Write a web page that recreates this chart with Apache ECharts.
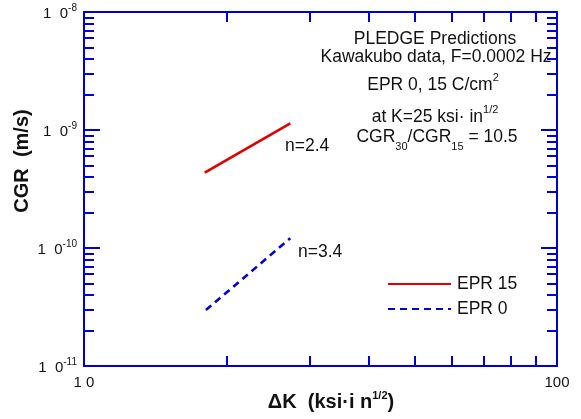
<!DOCTYPE html>
<html>
<head>
<meta charset="utf-8">
<script src="https://cdn.jsdelivr.net/npm/echarts@6/dist/echarts.min.js"></script>
<style>html,body{margin:0;padding:0;background:#fff;}#c{width:581px;height:419px;}</style>
</head>
<body>
<div id="c"></div>
<script>
// ---- data ----
const kEPR15 = [18.0, 27.3];
const cgrEPR15 = [4.35e-10, 1.14e-9];
const kEPR0 = [18.1, 27.3];
const cgrEPR0 = [2.98e-11, 1.21e-10];
const xMajor = [10, 100];
const xMinor = [20, 30, 40, 50, 60, 70, 80, 90];
const yMajor = [1e-11, 1e-10, 1e-9, 1e-8];
const yMinorFactors = [2, 3, 4, 5, 6, 7, 8, 9];
const seriesNames = ['EPR 15', 'EPR 0'];

const yMinor = [];
[1e-11, 1e-10, 1e-9].forEach(d => yMinorFactors.forEach(f => yMinor.push(f * d)));
const yMajorInner = [1e-10, 1e-9];

const FONT = 'Liberation Sans';
const BLUE = '#0000d4';
const chart = echarts.init(document.getElementById('c'), null, {renderer: 'canvas'});

function baseX(pos, line) {
  return {type: 'log', logBase: 10, min: 10, max: 100, position: pos,
    axisLine: {show: line !== false, onZero: false, lineStyle: {color: BLUE, width: 2}},
    splitLine: {show: false}, minorTick: {show: false}, minorSplitLine: {show: false}};
}
function baseY(pos, line) {
  return {type: 'log', logBase: 10, min: 1e-11, max: 1e-8, position: pos,
    axisLine: {show: line !== false, onZero: false, lineStyle: {color: BLUE, width: 2}},
    splitLine: {show: false}, minorTick: {show: false}, minorSplitLine: {show: false}};
}
const tickStyle = {color: BLUE, width: 2};

const xAxes = [
  Object.assign(baseX('bottom'), {
    axisTick: {show: true, inside: true, length: 10, lineStyle: tickStyle, customValues: xMinor},
    axisLabel: {show: false}
  }),
  Object.assign(baseX('top'), {
    axisTick: {show: true, inside: true, length: 10, lineStyle: tickStyle, customValues: xMinor},
    axisLabel: {show: false}
  }),
  Object.assign(baseX('bottom', false), {
    axisTick: {show: false},
    axisLabel: {show: true, customValues: xMajor, margin: 9, color: '#111', fontFamily: FONT, fontSize: 15,
      formatter: v => (Math.abs(v - 10) < 1e-6 ? '1 0' : String(Math.round(v)))}
  })
];

function yLabel(v) {
  const e = Math.round(Math.log10(v));
  return '{b|1  0}{s|' + e + '}';
}
const yRich = {b: {fontSize: 15, fontFamily: FONT, color: '#111', lineHeight: 18, verticalAlign: 'bottom', padding: [3, 0, 0, 0]},
               s: {fontSize: 10, fontFamily: FONT, color: '#111', lineHeight: 18, verticalAlign: 'top'}};

const yAxes = [
  Object.assign(baseY('left'), {
    axisTick: {show: true, inside: true, length: 10, lineStyle: tickStyle, customValues: yMinor},
    axisLabel: {show: false}
  }),
  Object.assign(baseY('left', false), {
    axisTick: {show: true, inside: true, length: 16, lineStyle: tickStyle, customValues: yMajorInner},
    axisLabel: {show: false}
  }),
  Object.assign(baseY('right'), {
    axisTick: {show: true, inside: true, length: 10, lineStyle: tickStyle, customValues: yMinor},
    axisLabel: {show: false}
  }),
  Object.assign(baseY('right', false), {
    axisTick: {show: true, inside: true, length: 16, lineStyle: tickStyle, customValues: yMajorInner},
    axisLabel: {show: false}
  }),
  Object.assign(baseY('left', false), {
    axisTick: {show: false},
    axisLabel: {show: true, customValues: yMajor, margin: 7, formatter: yLabel, rich: yRich}
  })
];

const sup = (x, y, main, s, tail, size, bold) => ({type: 'text', x: x, y: y, silent: true, style: {
  text: '{b|' + main + '}{s|' + s + '}' + (tail ? '{b|' + tail + '}' : ''), align: 'center', verticalAlign: 'middle',
  rich: {b: {fontFamily: FONT, fontSize: size, fontWeight: bold ? 'bold' : 'normal', fill: '#111', lineHeight: 22, verticalAlign: 'bottom'},
         s: {fontFamily: FONT, fontSize: 11, fontWeight: bold ? 'bold' : 'normal', fill: '#111', lineHeight: 22, verticalAlign: 'top'}}}});
const txt = (x, y, text, opts) => ({type: 'text', x: x, y: y, silent: true,
  style: Object.assign({text: text, fontFamily: FONT, fontSize: 17.5, fill: '#111', align: 'center', verticalAlign: 'middle'}, opts || {})});

const option = {
  animation: false,
  backgroundColor: '#fff',
  grid: {left: 84, right: 24, top: 12, bottom: 53, containLabel: false},
  xAxis: xAxes,
  yAxis: yAxes,
  legend: {
    data: seriesNames, orient: 'vertical', left: 387, top: 275, padding: 0,
    itemWidth: 63, itemHeight: 16, itemGap: 7,
    itemStyle: {opacity: 0},
    textStyle: {fontFamily: FONT, fontSize: 17.5, color: '#111', padding: [0, 0, 0, 1]}
  },
  series: [
    {name: seriesNames[0], type: 'line', xAxisIndex: 0, yAxisIndex: 0, symbol: 'none',
     data: kEPR15.map((k, i) => [k, cgrEPR15[i]]),
     lineStyle: {color: '#e00000', width: 2.6}, itemStyle: {color: '#e00000'}},
    {name: seriesNames[1], type: 'line', xAxisIndex: 0, yAxisIndex: 0, symbol: 'none',
     data: kEPR0.map((k, i) => [k, cgrEPR0[i]]),
     lineStyle: {color: '#0000dd', width: 2.6, type: [7, 5]}, itemStyle: {color: '#0000dd'}}
  ],
  graphic: [
    txt(435, 39, 'PLEDGE Predictions'),
    txt(436, 57, 'Kawakubo data, F=0.0002 Hz'),
    sup(433, 83, 'EPR 0, 15 C/cm', '2', '', 17.5),
    sup(435, 115, 'at K=25 ksi· in', '1/2', '', 17.5),
    {type: 'text', x: 437, y: 140, silent: true, style: {
      text: '{b|CGR}{d|30}{b|/CGR}{d|15}{b| = 10.5}', align: 'center', verticalAlign: 'middle',
      rich: {b: {fontFamily: FONT, fontSize: 17.5, fill: '#111', lineHeight: 24, verticalAlign: 'top'},
             d: {fontFamily: FONT, fontSize: 11, fill: '#111', lineHeight: 24, verticalAlign: 'bottom'}}}},
    txt(285, 146, 'n=2.4', {align: 'left'}),
    txt(298, 252, 'n=3.4', {align: 'left'}),
    sup(331, 401, 'ΔK  (ksi·i n', '1/2', ')', 20, true),
    {type: 'text', x: 22, y: 161, rotation: Math.PI / 2, silent: true, style: {
      text: 'CGR  (m/s)', fontFamily: FONT, fontSize: 20, fontWeight: 'bold', fill: '#111', align: 'center', verticalAlign: 'middle'}}
  ]
};
chart.setOption(option);
</script>
</body>
</html>
